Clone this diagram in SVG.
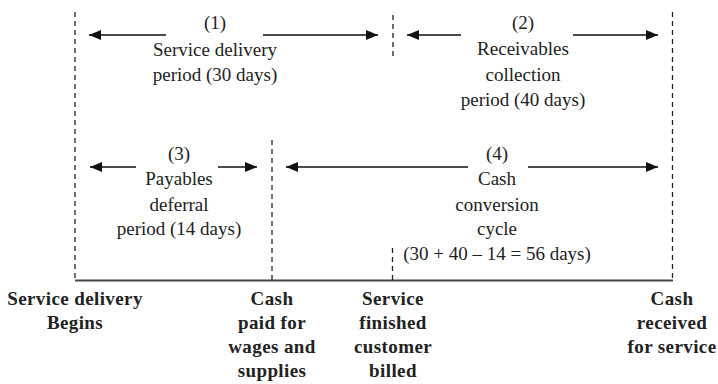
<svg xmlns="http://www.w3.org/2000/svg" width="718" height="384" viewBox="0 0 718 384" font-family="Liberation Serif, DejaVu Serif, serif">
  <style>
    .lbl { font-size: 19px; fill: #222; text-anchor: middle; }
    .evt { font-size: 19px; font-weight: bold; fill: #222; text-anchor: middle; letter-spacing: 0.4px; }
    .dash { stroke: #222; stroke-width: 1.3; stroke-dasharray: 5 4; fill: none; }
    .arr { stroke: #111; stroke-width: 1.6; fill: none; }
    .axis { stroke: #444; stroke-width: 2; }
  </style>
  <defs>
    <marker id="head" viewBox="0 0 12 10" refX="12" refY="5" markerWidth="12" markerHeight="10" markerUnits="userSpaceOnUse" orient="auto-start-reverse">
      <path d="M0,0 L12,5 L0,10 Z" fill="#111"/>
    </marker>
  </defs>

  <rect width="718" height="384" fill="#fff"/>

  <!-- time axis and event markers -->
  <g id="connectors">
    <line class="axis" x1="75" y1="280.5" x2="673" y2="280.5"/>
    <line class="dash" x1="75" y1="12" x2="75" y2="280"/>
    <line class="dash" x1="672.5" y1="12" x2="672.5" y2="280"/>
    <line class="dash" x1="393" y1="15" x2="393" y2="58"/>
    <line class="dash" x1="272" y1="140" x2="272" y2="280"/>
    <line class="dash" x1="392.5" y1="248" x2="392.5" y2="280"/>

    <!-- (1) -->
    <line class="arr" x1="166" y1="35" x2="89" y2="35" marker-end="url(#head)"/>
    <line class="arr" x1="263" y1="35" x2="378" y2="35" marker-end="url(#head)"/>
    <!-- (2) -->
    <line class="arr" x1="461" y1="35" x2="407" y2="35" marker-end="url(#head)"/>
    <line class="arr" x1="573" y1="35" x2="658" y2="35" marker-end="url(#head)"/>
    <!-- (3) -->
    <line class="arr" x1="136" y1="167" x2="90" y2="167" marker-end="url(#head)"/>
    <line class="arr" x1="218" y1="167" x2="257" y2="167" marker-end="url(#head)"/>
    <!-- (4) -->
    <line class="arr" x1="468" y1="167" x2="286" y2="167" marker-end="url(#head)"/>
    <line class="arr" x1="528" y1="167" x2="658" y2="167" marker-end="url(#head)"/>
  </g>

  <g id="period-1">
    <text class="lbl" x="215" y="29">(1)</text>
    <text class="lbl" x="215" y="56">Service delivery</text>
    <text class="lbl" x="215" y="81">period (30 days)</text>
  </g>

  <g id="period-2">
    <text class="lbl" x="523" y="29">(2)</text>
    <text class="lbl" x="523" y="55">Receivables</text>
    <text class="lbl" x="523" y="80.5">collection</text>
    <text class="lbl" x="523" y="106">period (40 days)</text>
  </g>

  <g id="period-3">
    <text class="lbl" x="179" y="160">(3)</text>
    <text class="lbl" x="179" y="185">Payables</text>
    <text class="lbl" x="179" y="210.5">deferral</text>
    <text class="lbl" x="179" y="235">period (14 days)</text>
  </g>

  <g id="period-4">
    <text class="lbl" x="497" y="160">(4)</text>
    <text class="lbl" x="497" y="185">Cash</text>
    <text class="lbl" x="497" y="210.5">conversion</text>
    <text class="lbl" x="497" y="235">cycle</text>
    <text class="lbl" x="497" y="260">(30 + 40 – 14 = 56 days)</text>
  </g>

  <g id="event-start">
    <text class="evt" x="75" y="305">Service delivery</text>
    <text class="evt" x="75" y="329">Begins</text>
  </g>

  <g id="event-cash-paid">
    <text class="evt" x="272" y="305">Cash</text>
    <text class="evt" x="272" y="329">paid for</text>
    <text class="evt" x="272" y="353">wages and</text>
    <text class="evt" x="272" y="377">supplies</text>
  </g>

  <g id="event-billed">
    <text class="evt" x="393" y="305">Service</text>
    <text class="evt" x="393" y="329">finished</text>
    <text class="evt" x="393" y="353">customer</text>
    <text class="evt" x="393" y="377">billed</text>
  </g>

  <g id="event-cash-received">
    <text class="evt" x="672" y="305">Cash</text>
    <text class="evt" x="672" y="329">received</text>
    <text class="evt" x="672" y="353">for service</text>
  </g>
</svg>
